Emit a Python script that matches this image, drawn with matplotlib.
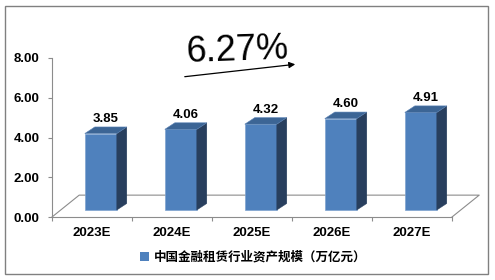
import matplotlib
matplotlib.use("Agg")
import matplotlib.pyplot as plt
from matplotlib.patches import Polygon, Rectangle, Patch

# Data
years = ["2023E", "2024E", "2025E", "2026E", "2027E"]
values = [3.85, 4.06, 4.32, 4.60, 4.91]
legend_label = "中国金融租赁行业资产规模（万亿元）"
growth_label = "6.27%"

plt.rcParams['font.family'] = ['Liberation Sans', 'Noto Sans CJK SC', 'DejaVu Sans']

W, H = 495, 280
fig = plt.figure(figsize=(W / 100, H / 100), dpi=100)

# outer frame
fig.patches.append(Rectangle((5 / W, 6 / H), 483 / W, 268 / H, transform=fig.transFigure,
                             fill=False, edgecolor='#808080', linewidth=1.0))

ax = fig.add_axes([52 / W, (H - 217) / H, 400 / W, 159 / H])
ax.set_xlim(-0.5, len(years) - 0.5)
ax.set_ylim(0, 8)

# 3D look parameters (in data units)
floor_dx, floor_dy = 0.34, 1.1
base = 0.35
width = 0.4
shift = 0.11
side_dx, side_dy = 0.125, 0.33

front_c = '#4F81BD'
top_c = '#3C6595'
side_c = '#283F5E'
grid_c = '#8C8C8C'

# floor outline
x0, x1 = -0.5, len(years) - 0.5
ax.plot([x0, x0 + floor_dx, x1 + floor_dx, x1], [0, floor_dy, floor_dy, 0],
        color=grid_c, linewidth=0.8, clip_on=False, zorder=1)

# bars
for i, v in enumerate(values):
    left = i + shift - width / 2
    right = left + width
    ax.bar(left, v, width=width, bottom=base, align='edge', color=front_c,
           edgecolor='#7FA3D0', linewidth=0.5, zorder=3)
    side = Polygon([(right, base), (right + side_dx, base + side_dy),
                    (right + side_dx, base + v + side_dy), (right, base + v)],
                   closed=True, facecolor=side_c, edgecolor=side_c, linewidth=0.3, zorder=3)
    top = Polygon([(left, base + v), (right, base + v),
                   (right + side_dx, base + v + side_dy), (left + side_dx, base + v + side_dy)],
                  closed=True, facecolor=top_c, edgecolor='#5A82B5', linewidth=0.4, zorder=3)
    ax.add_patch(side)
    ax.add_patch(top)
    ax.text(left + (width + side_dx) / 2, base + v + side_dy + 0.08, f"{v:.2f}",
            ha='center', va='bottom', fontsize=9.5, fontweight='bold', zorder=4)

# axes styling
for s in ['top', 'right']:
    ax.spines[s].set_visible(False)
ax.spines['left'].set_color(grid_c)
ax.spines['bottom'].set_color(grid_c)
ax.spines['left'].set_linewidth(0.8)
ax.spines['bottom'].set_linewidth(0.8)
ax.set_yticks([0, 2, 4, 6, 8])
ax.set_yticklabels([f"{t:.2f}" for t in [0, 2, 4, 6, 8]], fontsize=9.5, fontweight='bold')
ax.tick_params(axis='y', colors=grid_c, labelcolor='black', length=3, width=0.8, pad=6)
ax.set_xticks(range(len(years)))
ax.set_xticklabels(years, fontsize=9.5, fontweight='bold')
ax.set_xticks([i - 0.5 for i in range(len(years) + 1)], minor=True)
ax.tick_params(axis='x', which='major', length=0, pad=7)
ax.tick_params(axis='x', which='minor', colors=grid_c, length=3, width=0.8)

# growth annotation
fig.text(237 / W, 1 - 51 / H, growth_label, fontsize=26, ha='center', va='center', rotation=2)
fig.add_artist(matplotlib.patches.FancyArrowPatch(
    (182 / W, 1 - 77 / H), (298 / W, 1 - 64 / H), transform=fig.transFigure,
    arrowstyle='-|>', mutation_scale=9, color='black', linewidth=0.9))

fig.legend(handles=[Patch(facecolor=front_c)], labels=[legend_label],
           loc='center', bbox_to_anchor=(253 / W, 1 - 257 / H), frameon=False,
           handlelength=0.7, handleheight=0.7, handletextpad=0.4,
           prop={'family': ['Noto Sans CJK SC'], 'weight': 'bold', 'size': 9})

fig.savefig("out.png", dpi=100)
